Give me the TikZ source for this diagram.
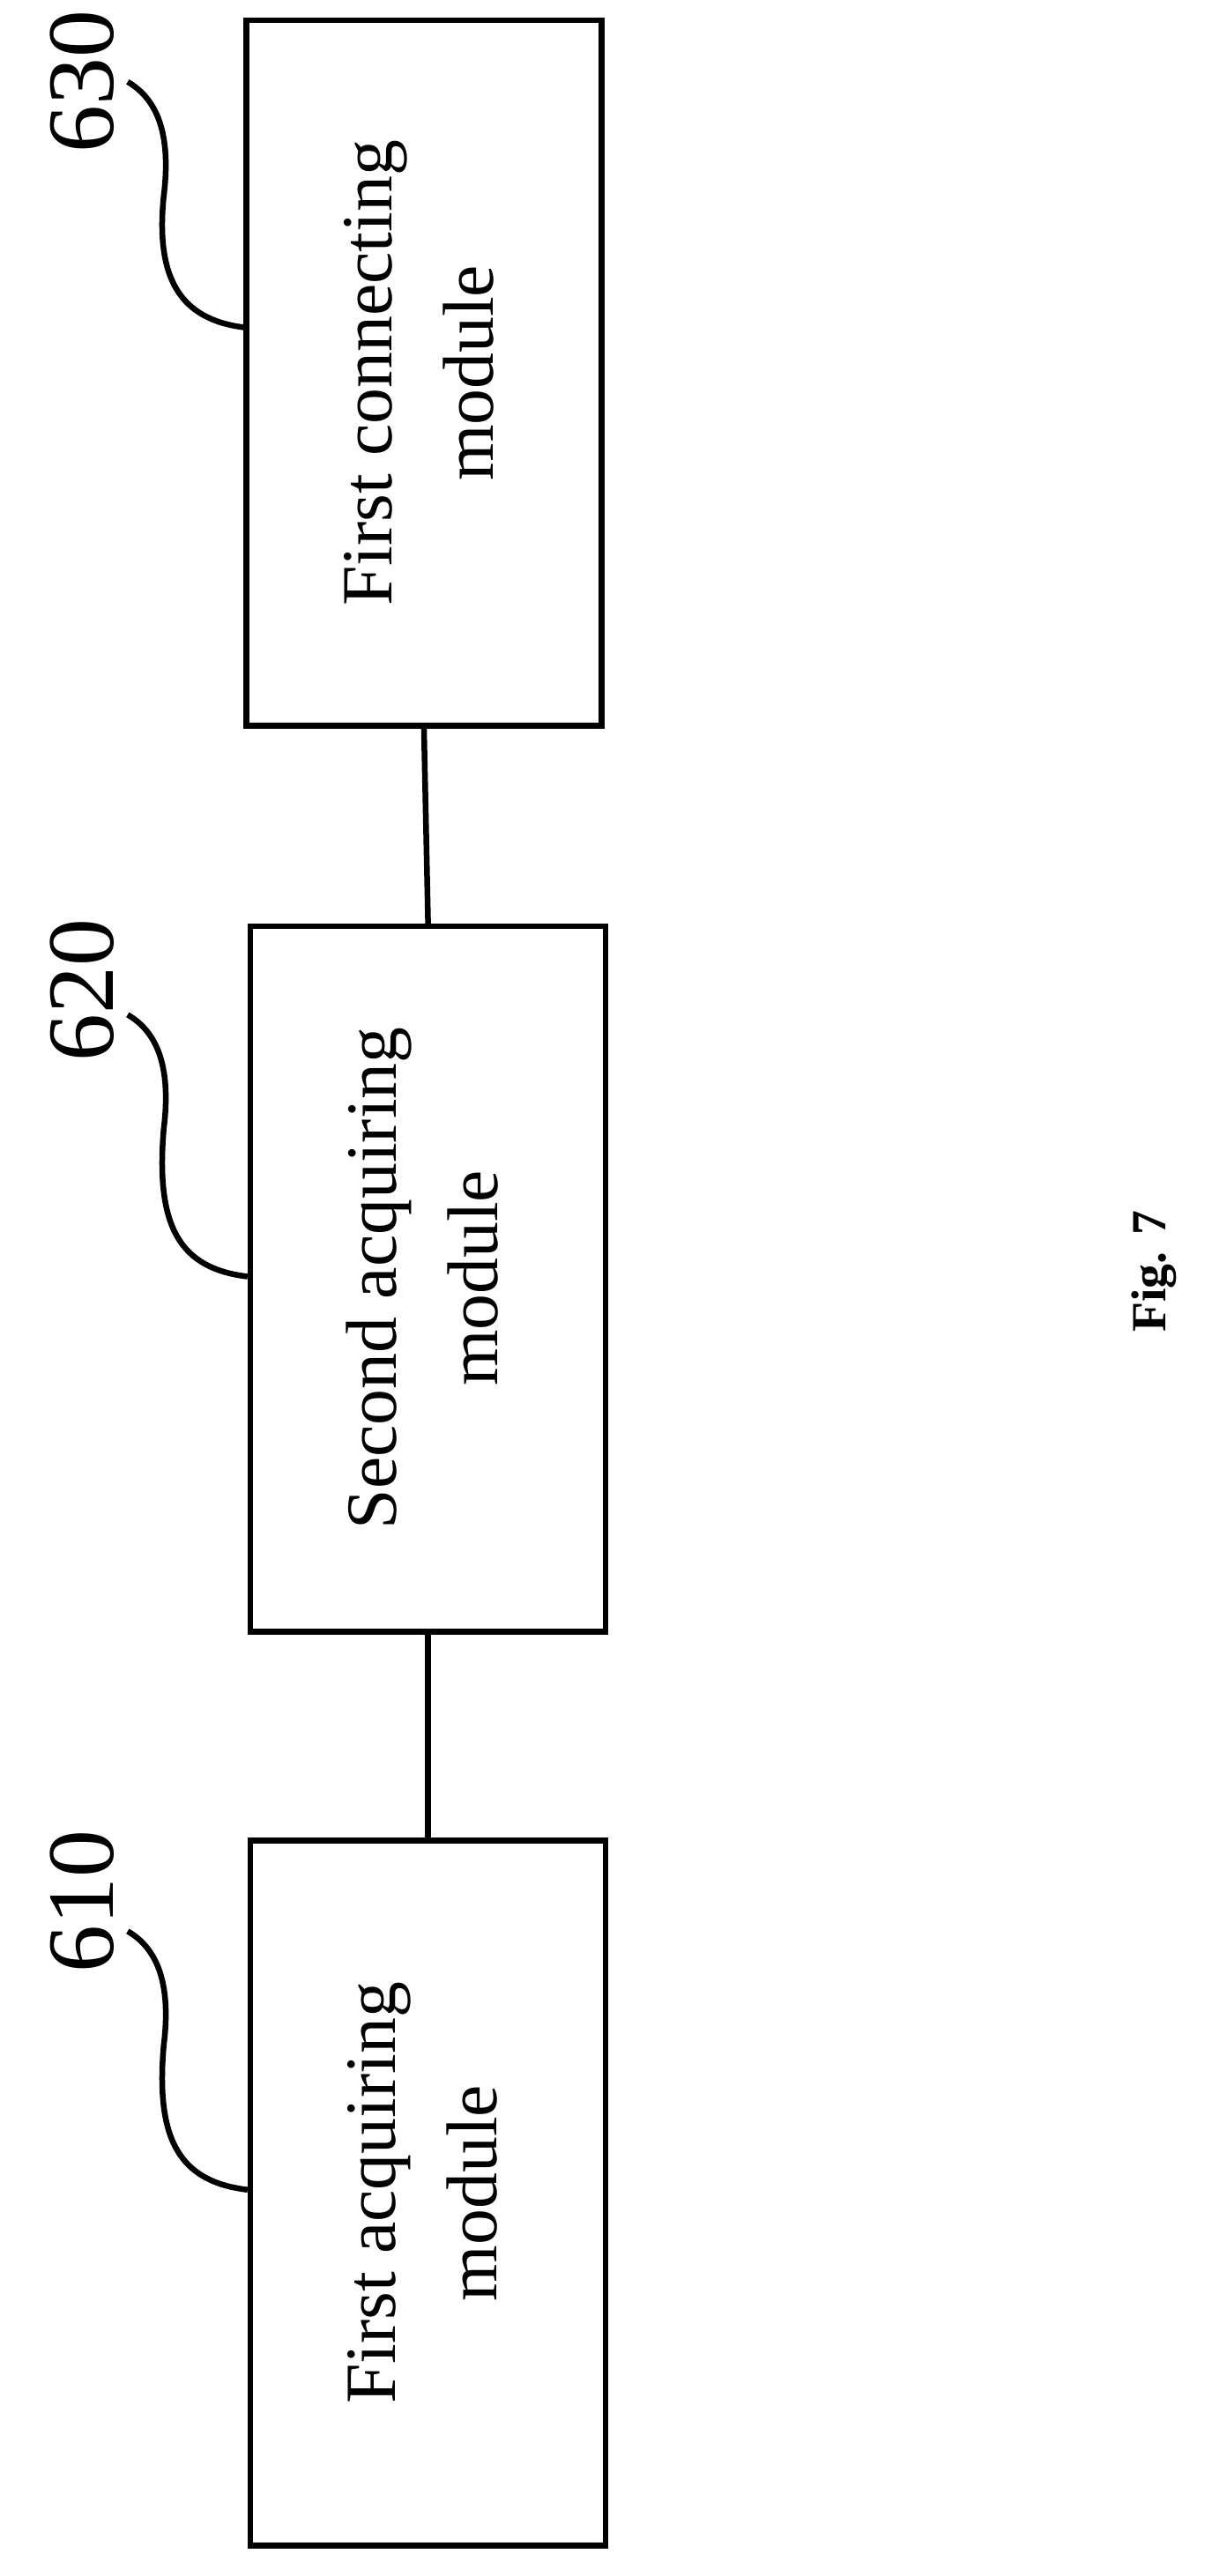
\documentclass[tikz,border=0pt]{standalone}
\usepackage{fontspec}
\setmainfont{Liberation Serif}
\begin{document}
\begin{tikzpicture}[x=1pt,y=-1pt,
  box/.style={draw,line width=3.5pt,minimum width=217pt,minimum height=431pt,inner sep=0pt},
  lbl/.style={rotate=90,font=\fontsize{44}{62}\selectfont,align=center},
  num/.style={rotate=90,font=\fontsize{58}{60}\selectfont},
  lead/.style={line width=3.5pt}]
\useasboundingbox (0,0) rectangle (740,1574);
\node[box] (b3) at (259,228) {};
\node[box] (b2) at (261.5,781.5) {};
\node[box] (b1) at (261.5,1340) {};
\node[lbl] (t3) at (256,228) {First connecting\\module};
\node[lbl] (t2) at (258,781) {Second acquiring\\module};
\node[lbl] (t1) at (258,1340) {First acquiring\\module};
\draw[lead] (b3.south) -- (b2.north);
\draw[lead] (b2.south) -- (b1.north);
\node[num] (n3) at (50,50) {630};
\node[num] (n2) at (50,605) {620};
\node[num] (n1) at (50,1162) {610};
\draw[lead] (b3.north west |- 0,200) .. controls (110,195) and (95,170) .. (100,120) .. controls (105,80) and (95,60) .. (78,50);
\draw[lead] (b2.north west |- 0,780) .. controls (110,775) and (95,750) .. (100,690) .. controls (105,650) and (95,630) .. (78,620);
\draw[lead] (b1.north west |- 0,1338) .. controls (110,1333) and (95,1308) .. (100,1250) .. controls (105,1210) and (95,1190) .. (78,1180);
\node[rotate=90,font=\bfseries\fontsize{30}{32}\selectfont] (fig) at (705,777) {Fig. 7};
\end{tikzpicture}
\end{document}
